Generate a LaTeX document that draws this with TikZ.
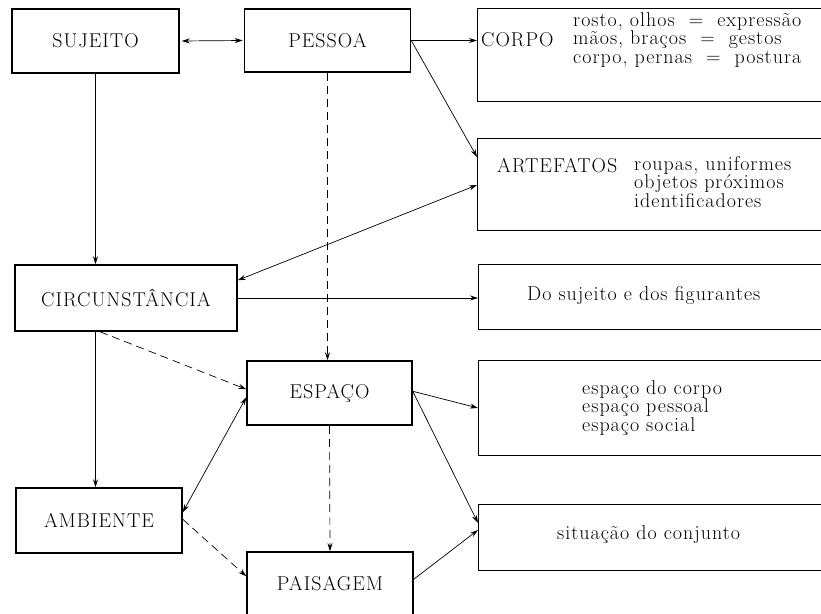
\documentclass[tikz,border=0pt]{standalone}
\usepackage{fontspec}
\setmainfont{Latin Modern Roman}[LetterSpace=5]
\usetikzlibrary{arrows.meta}
\tikzset{
	box/.style={draw, line width=1.5pt, minimum width=166pt, minimum height=64pt, inner sep=0pt},
	rbox/.style={draw, line width=1.4pt, anchor=north west, minimum width=360pt, inner sep=0pt},
	txt/.style={inner sep=0pt, anchor=west, align=left},
	arr/.style={-{Stealth[length=8pt, width=5pt]}, line width=0.7pt},
	darr/.style={{Stealth[length=8pt, width=5pt]}-{Stealth[length=8pt, width=5pt]}, line width=0.7pt},
	dash arr/.style={arr, dash pattern=on 8pt off 5pt},
}

\begin{document}
\begin{tikzpicture}[x=1pt, y=-1pt, font=\fontsize{20}{18.5}\selectfont]
			%%%%% START %%%%%
			\path[use as bounding box, clip] (0, 0) rectangle (821, 613);
			
			% left column
			\node[box, minimum width=167pt] (sujeito) at (95.5, 41) {SUJEITO};
			\node[box, minimum width=222pt, minimum height=66pt] (circ) at (126, 298) {CIRCUNSTÂNCIA};
			\node[box, minimum height=65pt] (ambiente) at (99, 520.5) {AMBIENTE};
			
			% middle column
			\node[box, minimum height=63pt] (pessoa) at (327.5, 40.5) {PESSOA};
			\node[box, minimum width=165pt] (espaco) at (329.5, 393) {ESPAÇO};
			\node[box] (paisagem) at (330, 584) {PAISAGEM};
			
			% right column, cut by the page edge
			\node[rbox, minimum height=93pt] (corpo) at (477, 8) {};
			\node[txt] (corpol) at (481, 40) {CORPO};
			\node[txt] (corpot) at (573, 40) {rosto, olhos \ = \ expressão\\
				mãos, braços \ = \ gestos\\
				corpo, pernas \ = \ postura};
			
			\node[rbox, minimum height=92pt] (artefatos) at (477, 138) {};
			\node[txt] (artefatosl) at (497, 166) {ARTEFATOS};
			\node[txt, anchor=north west] (artefatost) at (634, 156) {roupas, uniformes\\
				objetos próximos\\
				identificadores};
			
			\node[rbox, minimum height=65pt] (figur) at (478, 264) {};
			\node[txt] (figurt) at (527, 296) {Do sujeito e dos figurantes};
			
			\node[rbox, minimum height=95pt] (espacos) at (478, 360) {};
			\node[txt] (espacost) at (582, 408) {espaço do corpo\\
				espaço pessoal\\
				espaço social};
			
			\node[rbox, minimum height=66pt] (conjunto) at (478, 504) {};
			\node[txt] (conjuntot) at (557, 535) {situação do conjunto};
			
			% connectors
			\draw[darr, shorten <=2pt, shorten >=1pt] (sujeito.east) -- (pessoa.west);
			\draw[arr] (pessoa.east) -- (pessoa.east -| corpo.west);
			\draw[arr] (pessoa.east) -- ([yshift=-19pt]artefatos.north west);
			\draw[darr] ([yshift=-47pt]artefatos.north west) -- ([yshift=-16pt]circ.north east);
			\draw[arr] (sujeito.south) -- (sujeito.south |- circ.north);
			\draw[dash arr] (pessoa.south) -- (pessoa.south |- espaco.north);
			\draw[arr] (circ.east) -- (circ.east -| figur.west);
			\draw[dash arr] ([xshift=-26pt]circ.south) -- ([yshift=-29pt]espaco.north west);
			\draw[arr] (sujeito.south |- circ.south) -- (sujeito.south |- ambiente.north);
			\draw[darr] ([yshift=-37pt]espaco.north west) -- ([yshift=-25pt]ambiente.north east);
			\draw[dash arr] (espaco.south) -- (paisagem.north);
			\draw[dash arr] ([yshift=-32pt]ambiente.north east) -- ([yshift=-25pt]paisagem.north west);
			\draw[arr] ([yshift=-31pt]espaco.north east) -- ([yshift=-48pt]espacos.north west);
			\draw[arr] ([yshift=-31pt]espaco.north east) -- ([yshift=-19pt]conjunto.north west);
			\draw[arr] ([yshift=-28pt]paisagem.north east) -- ([yshift=-26pt]conjunto.north west);
			%%%%% END %%%%%
\end{tikzpicture}
\end{document}
